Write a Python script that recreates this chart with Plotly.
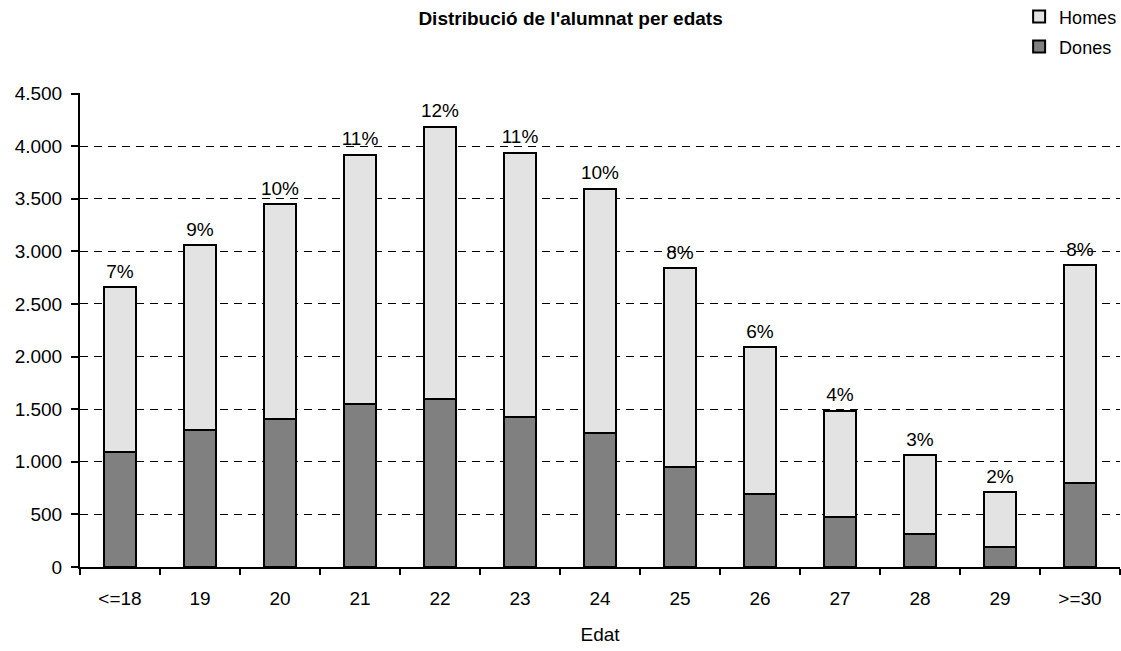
import plotly.graph_objects as go

edats = ["<=18", "19", "20", "21", "22", "23", "24", "25", "26", "27", "28", "29", ">=30"]
totals = [2661, 3057, 3447, 3920, 4186, 3936, 3593, 2838, 2087, 1487, 1062, 710, 2867]
dones = [1091, 1303, 1408, 1548, 1595, 1427, 1272, 955, 691, 479, 314, 193, 796]
homes = [t - d for t, d in zip(totals, dones)]
pct_labels = ["7%", "9%", "10%", "11%", "12%", "11%", "10%", "8%", "6%", "4%", "3%", "2%", "8%"]

font = "Liberation Sans, Arial, sans-serif"

fig = go.Figure()
fig.add_trace(go.Bar(x=edats, y=dones, name="Dones", legend="legend2",
                     marker=dict(color="#808080", line=dict(color="black", width=2))))
fig.add_trace(go.Bar(x=edats, y=homes, name="Homes", legend="legend",
                     marker=dict(color="#e3e3e3", line=dict(color="black", width=2))))
# percentage of each age group over the total
fig.add_trace(go.Scatter(x=edats, y=totals, mode="markers+text", text=pct_labels,
                         textposition="top center", showlegend=False, cliponaxis=False,
                         marker=dict(size=6, color="rgba(0,0,0,0)"),
                         textfont=dict(size=19, color="black", family=font)))

fig.update_layout(
    width=1121, height=651,
    margin=dict(l=80, r=1, t=93, b=84, autoexpand=False),
    paper_bgcolor="white", plot_bgcolor="white",
    barmode="stack", bargap=0.59,
    separators=",.",
    font=dict(family=font, size=19, color="black"),
    title=dict(text="<b>Distribució de l'alumnat per edats</b>", x=0.509, xref="container",
               y=1 - 18 / 651, yref="container", yanchor="middle", xanchor="center",
               font=dict(size=19, family=font)),
    legend=dict(x=0.903, y=1.1607, xanchor="left", yanchor="middle", font=dict(size=18),
                bgcolor="rgba(0,0,0,0)", borderwidth=0, itemwidth=30),
    legend2=dict(x=0.903, y=1.0973, xanchor="left", yanchor="middle", font=dict(size=18),
                 bgcolor="rgba(0,0,0,0)", borderwidth=0, itemwidth=30),
    showlegend=True,
)
fig.update_xaxes(range=[-0.5, len(edats) - 0.5], showline=True, linecolor="black", linewidth=2,
                 ticks="outside", tickson="boundaries", ticklen=6, tickwidth=2, tickcolor="black",
                 tickfont=dict(size=19), ticklabelstandoff=13,
                 title=dict(text="Edat", font=dict(size=19), standoff=20),
                 showgrid=False)
fig.update_yaxes(range=[0, 4505], dtick=500, tickformat=",d", showline=True, linecolor="black",
                 linewidth=2, ticks="outside", ticklen=7, tickwidth=2, tickcolor="black",
                 tickfont=dict(size=19), ticklabelstandoff=5,
                 showgrid=True, gridcolor="black", gridwidth=1,
                 griddash="8px,6px", zeroline=False)

fig.write_html("out.html", config={"displayModeBar": False},
               post_script="document.body.style.margin='0';")
